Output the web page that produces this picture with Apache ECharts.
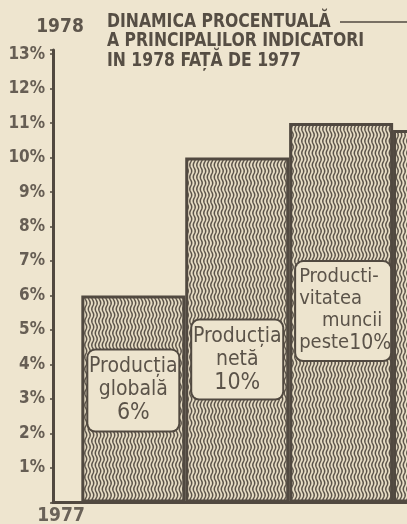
<!DOCTYPE html>
<html>
<head>
<meta charset="utf-8">
<script src="https://cdn.jsdelivr.net/npm/echarts@6/dist/echarts.min.js"></script>
<style>
  html, body { margin: 0; padding: 0; background: #eee5cf; }
  #chart { width: 407px; height: 524px; }
</style>
</head>
<body>
<div id="chart"></div>
<script>
// date: indicatori 1978 fata de 1977
var categories = ['Producția globală', 'Producția netă', 'Productivitatea muncii', ''];
var values = [6, 10, 11, 10.8];
var barTexts = [
    'Producția\nglobală\n{big|6%}',
    'Producția\nnetă\n{big|10%}',
    '{s|Producti-}\n{s|vitatea}\n{s|    muncii}\n{s|peste}{mid|10%}',
    ''
];
var yTicks = [1, 2, 3, 4, 5, 6, 7, 8, 9, 10, 11, 12, 13];
var titleLines = ['DINAMICA PROCENTUALĂ', 'A PRINCIPALILOR INDICATORI', 'IN 1978 FAȚĂ DE 1977'];
var yearTop = '1978';
var yearBottom = '1977';

(function(){

    var ink = '#514940';
    var paper = '#eee5cf';
    var narrow = '"DejaVu Sans Condensed", sans-serif';

    // hasura cu linii ondulate, ca in ziar
    function wavyPattern(){
        var c = document.createElement('canvas');
        c.width = 7;
        c.height = 12;
        var ctx = c.getContext('2d');
        ctx.fillStyle = '#e6dcc4';
        ctx.fillRect(0, 0, 7, 12);
        ctx.strokeStyle = '#5b5349';
        ctx.lineWidth = 1.5;
        for(var k = 0; k < 2; k++){
            ctx.beginPath();
            for(var y = -1; y <= 13; y += 0.5){
                var x = 1.75 + 3.5 * k + 0.95 * Math.sin(2 * Math.PI * y / 12);
                if(y === -1){
                    ctx.moveTo(x, y);
                }else{
                    ctx.lineTo(x, y);
                }
            }
            ctx.stroke();
        }
        return c;
    }

    // pozitia casutelor cu text in fiecare coloana
    var boxLayout = [
        { distance: 55, width: 84, height: 72, align: 'center', offset: [0, 0] },
        { distance: 163, width: 84, height: 70, align: 'center', offset: [0, 0] },
        { distance: 139, width: 88, height: 90, align: 'left', offset: [-45, 0] },
        null
    ];

    var pattern = { image: wavyPattern(), repeat: 'repeat' };

    var barData = values.map(function(v, i){
        var box = boxLayout[i];
        var item = {
            name: categories[i],
            value: [i + 0.5, v]
        };
        if(box){
            item.label = {
                show: true,
                position: 'insideTop',
                distance: box.distance,
                offset: box.offset,
                formatter: barTexts[i],
                width: box.width,
                height: box.height,
                align: box.align,
                verticalAlign: 'top'
            };
        }
        return item;
    });

    var chart = echarts.init(document.getElementById('chart'));
    chart.setOption({
        backgroundColor: paper,
        animation: false,
        grid: {
            left: 53,
            right: 0,
            top: 50,
            bottom: 21.5,
            outerBoundsMode: 'none'
        },
        xAxis: {
            type: 'value',
            min: -0.273,
            max: 3.134,
            axisLine: { show: true, onZero: false, lineStyle: { color: ink, width: 3 } },
            axisTick: { show: false },
            axisLabel: { show: false },
            splitLine: { show: false }
        },
        yAxis: {
            type: 'value',
            min: 0,
            max: 13.12,
            interval: 1,
            axisLine: { show: true, onZero: false, lineStyle: { color: ink, width: 3 } },
            axisTick: { show: true, length: 3, lineStyle: { color: ink, width: 1.5 } },
            axisLabel: {
                margin: 8,
                color: '#665e54',
                fontFamily: narrow,
                fontWeight: 'bold',
                fontSize: 17,
                formatter: function(v){
                    return yTicks.indexOf(v) >= 0 ? v + '%' : '';
                }
            },
            splitLine: { show: false }
        },
        series: [{
            type: 'bar',
            data: barData,
            barWidth: 104,
            clip: true,
            itemStyle: {
                color: pattern,
                borderColor: ink,
                borderWidth: 3
            },
            label: {
                color: '#5b5349',
                fontFamily: narrow,
                fontSize: 21,
                lineHeight: 23,
                backgroundColor: '#ede4ce',
                borderColor: ink,
                borderWidth: 2,
                borderRadius: 7,
                padding: [4, 3],
                rich: {
                    big: {
                        fontFamily: narrow,
                        fontSize: 23,
                        lineHeight: 25,
                        color: '#5b5349'
                    },
                    s: {
                        fontFamily: narrow,
                        fontSize: 20,
                        lineHeight: 22,
                        color: '#5b5349'
                    },
                    mid: {
                        fontFamily: narrow,
                        fontSize: 21,
                        lineHeight: 22,
                        color: '#5b5349'
                    }
                }
            }
        }],
        graphic: [
            {
                type: 'text',
                x: 107,
                y: 12,
                scaleX: 0.87,
                style: {
                    text: titleLines.join('\n'),
                    fill: '#564e44',
                    font: 'bold 20px ' + narrow,
                    lineHeight: 19.5
                }
            },
            {
                type: 'line',
                shape: { x1: 340, y1: 22, x2: 407, y2: 22 },
                style: { stroke: ink, lineWidth: 1.5 }
            },
            {
                type: 'text',
                x: 60,
                y: 27.5,
                style: {
                    text: yearTop,
                    fill: '#5e564c',
                    font: 'bold 19px ' + narrow,
                    align: 'center',
                    verticalAlign: 'middle'
                }
            },
            {
                type: 'text',
                x: 61,
                y: 516,
                style: {
                    text: yearBottom,
                    fill: '#6a6258',
                    font: 'bold 19px ' + narrow,
                    align: 'center',
                    verticalAlign: 'middle'
                }
            }
        ]
    });
})();
</script>
</body>
</html>
